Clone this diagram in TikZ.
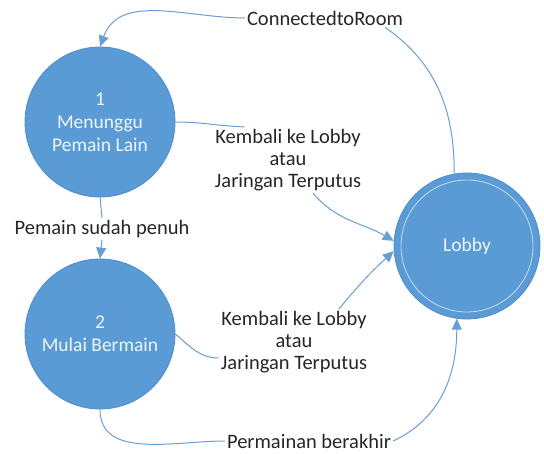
\documentclass[tikz,border=0pt]{standalone}
\usepackage{fontspec}
\setmainfont{Carlito}
\usetikzlibrary{positioning, arrows.meta}
\definecolor{birulingkaran}{RGB}{91,155,213}
\definecolor{biruborder}{RGB}{78,140,202}
\definecolor{birugaris}{RGB}{104,158,212}
\definecolor{teksgelap}{RGB}{38,38,38}

\begin{document}
\begin{tikzpicture}[
		x=1pt, y=-1pt,
		proses/.style = {
			circle,
			draw=biruborder,
			thick,
			fill=birulingkaran,
			minimum size=150pt,                 % Diameter lingkaran
			inner sep=0pt,
			align=center,
			text=white!90!birulingkaran,
			font=\fontsize{19.5}{23}\selectfont
		},
		keterangan/.style = {
			align=center,
			inner sep=2pt,
			text=teksgelap,
			font=\fontsize{20.5}{22}\selectfont
		},
		garis/.style = {draw=birugaris, line width=1pt},
		panah/.style = {garis, -{Triangle[length=11pt,width=10pt]}}
		]
		\useasboundingbox (0,0) rectangle (544,454);
		
		% Proses - kiri atas, kiri bawah, kanan
		\node[proses] (tunggu) at (100,122) {1\\Menunggu\\Pemain Lain};
		\node[proses] (main) at (100,334) {2\\Mulai Bermain};
		\node[proses, minimum size=146pt] (lobby) at (467,246) {Lobby};
		\draw[white!65!birulingkaran, line width=0.8pt] (lobby.center) circle (66pt);
		
		% Keterangan alur
		\node[keterangan] (room) at (325,18) {ConnectedtoRoom};
		\node[keterangan] (kembalia) at (288,160) {Kembali ke Lobby\\atau\\Jaringan Terputus};
		\node[keterangan] (penuh) at (102,229) {Pemain sudah penuh};
		\node[keterangan] (kembalib) at (294,342) {Kembali ke Lobby\\atau\\Jaringan Terputus};
		\node[keterangan] (selesai) at (309,441) {Permainan berakhir};
		
		% Lobby -> Menunggu
		\draw[garis] (lobby.100) to[out=90, in=-35] ([xshift=-20pt]room.south east);
		\draw[panah] (room.west) to[out=180, in=70] (tunggu.north);
		
		% Menunggu -> Lobby
		\draw[garis] (tunggu.east) to[out=0, in=178] ([xshift=32pt]kembalia.north west);
		\draw[panah] ([xshift=25pt]kembalia.south) to[out=-50, in=150] (lobby.176);
		
		% Menunggu -> Mulai
		\draw[garis] (tunggu.south) -- (penuh.north);
		\draw[panah] (penuh.south) -- (main.north);
		
		% Mulai -> Lobby
		\draw[garis] (main.east) to[out=-40, in=180] ([yshift=-16pt]kembalib.west);
		\draw[panah] ([xshift=45pt]kembalib.north) to[bend left=4] (lobby.184);
		\draw[garis] (main.south) to[out=-90, in=180] (selesai.west);
		\draw[panah] (selesai.east) to[out=25, in=-90] (lobby.-98);
		
	\end{tikzpicture}
\end{document}
